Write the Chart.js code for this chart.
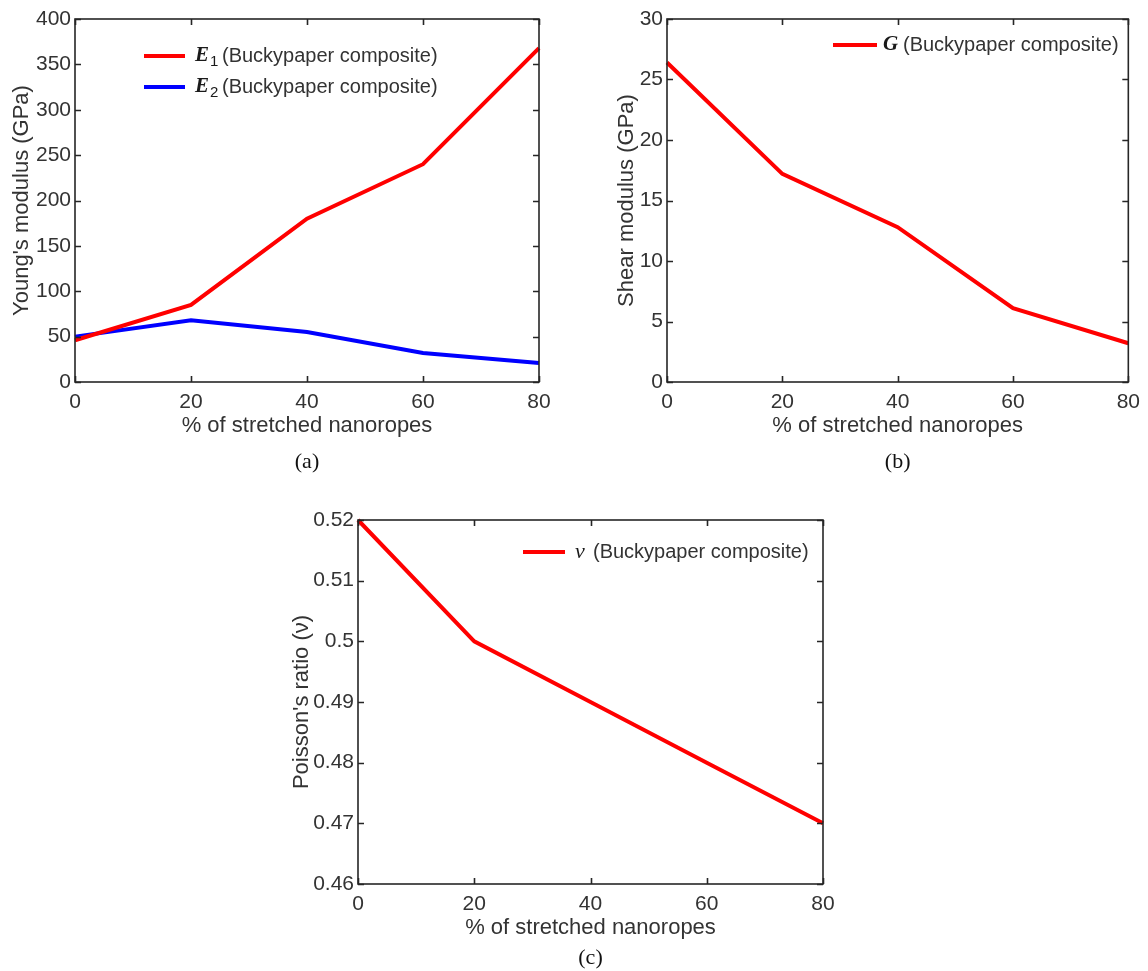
<!DOCTYPE html>
<html>
<head>
<meta charset="utf-8">
<script src="https://cdn.jsdelivr.net/npm/chart.js@4.4.0/dist/chart.umd.min.js"></script>
<style>
  html, body { margin: 0; padding: 0; background: #fff; }
  body { width: 1148px; height: 971px; position: relative; overflow: hidden; }
  canvas { position: absolute; }
</style>
</head>
<body>
<canvas id="chartA" style="left:0;top:0" width="580" height="490"></canvas>
<canvas id="chartB" style="left:590px;top:0" width="558" height="490"></canvas>
<canvas id="chartC" style="left:270px;top:470px" width="600" height="501"></canvas>
<script>
// values
const stretched = [0, 20, 40, 60, 80];
const youngE1 = [46, 85, 180, 240, 368];
const youngE2 = [50, 68, 55, 32, 21];
const shearG = [26.4, 17.2, 12.8, 6.1, 3.2];
const poisson = [0.52, 0.50, 0.49, 0.48, 0.47];

const xTicks = [0, 20, 40, 60, 80];
const youngRange = [0, 400, 50];
const shearRange = [0, 30, 5];
const poissonRange = [0.46, 0.52, 0.01];

const axisColor = '#262626';
const textColor = '#333';
Chart.defaults.font.family = '"Liberation Sans", Arial, sans-serif';
Chart.defaults.color = textColor;

const toPoints = (xs, ys) => xs.map((x, i) => ({x: x, y: ys[i]}));

//Box with inward ticks, the legend and the panel letter, drawn like matlab does it
const matlabBox = {
  id: 'matlabBox',
  afterDatasetsDraw(chart, args, opts) {
    const {ctx, chartArea: a, scales} = chart;
    const len = 6;
    ctx.save();
    ctx.strokeStyle = axisColor;
    ctx.lineWidth = 1.6;
    ctx.beginPath();
    scales.x.ticks.forEach(t => {
      const px = Math.round(scales.x.getPixelForValue(t.value)) + 0.5;
      ctx.moveTo(px, a.bottom); ctx.lineTo(px, a.bottom - len);
      ctx.moveTo(px, a.top); ctx.lineTo(px, a.top + len);
    });
    scales.y.ticks.forEach(t => {
      const py = Math.round(scales.y.getPixelForValue(t.value)) + 0.5;
      ctx.moveTo(a.left, py); ctx.lineTo(a.left + len, py);
      ctx.moveTo(a.right, py); ctx.lineTo(a.right - len, py);
    });
    ctx.stroke();
    ctx.strokeRect(a.left, a.top, a.width, a.height);

    // legend
    const lg = opts.legend;
    ctx.textBaseline = 'middle';
    ctx.textAlign = 'left';
    chart.data.datasets.forEach((ds, i) => {
      const it = lg.items[i];
      const y = a.top + lg.y + i * lg.rowGap;
      ctx.strokeStyle = ds.borderColor;
      ctx.lineWidth = 4;
      ctx.beginPath();
      ctx.moveTo(a.left + lg.x, y);
      ctx.lineTo(a.left + lg.x + lg.lineLen, y);
      ctx.stroke();
      ctx.fillStyle = '#1a1a1a';
      ctx.font = it.symFont;
      ctx.fillText(it.sym, a.left + lg.symX, y);
      if (it.sub) {
        const w = ctx.measureText(it.sym).width;
        ctx.font = '15px "Liberation Sans"';
        ctx.fillText(it.sub, a.left + lg.symX + w + 1, y + 6);
      }
      ctx.fillStyle = textColor;
      ctx.font = '20px "Liberation Sans"';
      ctx.fillText(it.text, a.left + lg.textX, y);
    });

    // panel letter
    ctx.fillStyle = '#111';
    ctx.font = '22px "Liberation Serif"';
    ctx.textAlign = 'center';
    ctx.fillText(opts.panel, (a.left + a.right) / 2, a.bottom + opts.panelOffset);
    ctx.restore();
  }
};

const makeChart = (id, datasets, range, yTitle, lay, legend, panel, panelOffset, yFormat) => {
  return new Chart(document.getElementById(id), {
    type: 'line',
    data: { datasets: datasets },
    options: {
      responsive: false,
      animation: false,
      layout: { padding: { left: 0, top: lay.top, right: lay.right, bottom: lay.bottom } },
      elements: { point: { radius: 0 }, line: { borderWidth: 4, tension: 0 } },
      plugins: {
        legend: { display: false },
        tooltip: { enabled: false },
        matlabBox: { legend: legend, panel: panel, panelOffset: panelOffset }
      },
      scales: {
        x: {
          type: 'linear', min: 0, max: 80,
          afterBuildTicks: s => { s.ticks = xTicks.map(v => ({value: v})); },
          afterFit: s => { s.height = 57; },
          grid: { display: false, drawTicks: false }, border: { display: false },
          ticks: { padding: 8, font: { size: 21 }, color: textColor, maxRotation: 0 },
          title: { display: true, text: '% of stretched nanoropes', font: { size: 22 }, color: textColor, padding: 0 }
        },
        y: {
          min: range[0], max: range[1],
          afterFit: s => { s.width = lay.yWidth; },
          grid: { display: false, drawTicks: false }, border: { display: false },
          ticks: { stepSize: range[2], padding: 4, font: { size: 21 }, color: textColor, callback: yFormat },
          title: { display: true, text: yTitle, font: { size: 22 }, color: textColor, padding: { top: lay.titlePad, bottom: 0 } }
        }
      }
    },
    plugins: [matlabBox]
  });
};

const intFormat = v => String(v);
const ratioFormat = v => String(Math.round(v * 100) / 100);

makeChart('chartA', [
  { data: toPoints(stretched, youngE1), borderColor: '#ff0000', clip: false },
  { data: toPoints(stretched, youngE2), borderColor: '#0000ff', clip: false }
], youngRange, "Young's modulus (GPa)",
  { top: 19, right: 41, bottom: 490 - 382 - 57, yWidth: 75, titlePad: 9 },
  { x: 69, y: 37, rowGap: 31, lineLen: 41, symX: 120, textX: 147, items: [
    { sym: 'E', sub: '1', symFont: 'bold italic 21px "Liberation Serif"', text: '(Buckypaper composite)' },
    { sym: 'E', sub: '2', symFont: 'bold italic 21px "Liberation Serif"', text: '(Buckypaper composite)' }
  ]}, '(a)', 80, intFormat);

makeChart('chartB', [
  { data: toPoints(stretched, shearG), borderColor: '#ff0000', clip: false }
], shearRange, 'Shear modulus (GPa)',
  { top: 19, right: 15, bottom: 490 - 382 - 57, yWidth: 77, titlePad: 24 },
  { x: 166, y: 26, rowGap: 31, lineLen: 44, symX: 216, textX: 236, items: [
    { sym: 'G', sub: '', symFont: 'bold italic 21px "Liberation Serif"', text: '(Buckypaper composite)' }
  ]}, '(b)', 80, intFormat);

makeChart('chartC', [
  { data: toPoints(stretched, poisson), borderColor: '#ff0000', clip: false }
], poissonRange, "Poisson's ratio (\u03bd)",
  { top: 50, right: 47, bottom: 501 - 414 - 57, yWidth: 88, titlePad: 19 },
  { x: 165, y: 32, rowGap: 31, lineLen: 42, symX: 217, textX: 235, items: [
    { sym: '\u03bd', sub: '', symFont: 'italic 22px "Liberation Serif"', text: '(Buckypaper composite)' }
  ]}, '(c)', 74, ratioFormat);
</script>
</body>
</html>
